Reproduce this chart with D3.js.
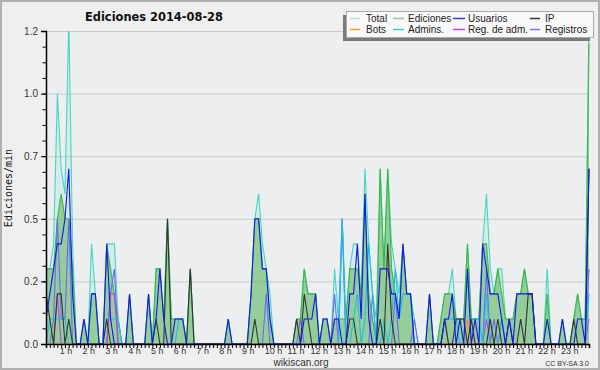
<!DOCTYPE html>
<html>
<head>
<meta charset="utf-8">
<script src="https://cdn.jsdelivr.net/npm/d3@7"></script>
<style>
  body { margin: 0; background: #efefef; }
  svg { display: block; }
</style>
</head>
<body>
<div id="chart"></div>
<script>
// 10 minute slots, values in edits per minute (144 slots)
const total = [
  0.3,0.3,0.4,1.0,0.7,0.6,1.3,0.4,0,0,0.1,0,
  0.4,0.2,0,0,0.4,0.4,0.4,0.1,0,0,0.2,0,
  0,0,0,0.2,0,0.3,0.3,0.1,0.5,0.1,0.1,0.1,
  0.1,0,0.3,0,0,0,0,0,0,0,0,0,
  0.1,0,0,0,0,0,0.2,0.5,0.6,0.4,0.3,0.2,
  0,0,0,0,0,0,0.1,0.1,0.3,0.2,0.2,0.2,
  0,0.1,0.1,0,0.3,0.1,0.5,0.1,0.3,0.4,0.4,0.2,
  0.7,0.4,0.2,0.1,0.7,0.3,0.7,0.4,0.3,0.2,0.4,0.2,
  0.2,0.1,0,0,0,0.2,0,0,0.1,0.2,0.2,0.3,
  0.1,0.1,0.1,0.4,0.1,0.1,0.1,0.4,0.6,0.3,0.2,0.3,
  0.3,0.1,0.1,0.1,0.2,0.2,0.3,0.2,0.2,0,0,0,
  0.3,0,0,0,0.1,0,0,0.1,0.2,0.1,0.1,1.3
];
const ediciones = [
  0.3,0.3,0.3,0.5,0.6,0.5,0.5,0.3,0,0,0.1,0,
  0.2,0.2,0,0,0.4,0.3,0.2,0.1,0,0,0.2,0,
  0,0,0,0.2,0,0.3,0.3,0.1,0.5,0.1,0.1,0.1,
  0.1,0,0.3,0,0,0,0,0,0,0,0,0,
  0.1,0,0,0,0,0,0.2,0.5,0.5,0.3,0.3,0.1,
  0,0,0,0,0,0,0.1,0.1,0.3,0.2,0.2,0.2,
  0,0.1,0.1,0,0.1,0.1,0.1,0.1,0.3,0.3,0.3,0.2,
  0.6,0.2,0.1,0,0.7,0.3,0.7,0.3,0.2,0.1,0.4,0.2,
  0.2,0,0,0,0,0.2,0,0,0.1,0.2,0.2,0.2,
  0.1,0.1,0.1,0.4,0.1,0.1,0.1,0.4,0.4,0.2,0.2,0.3,
  0.2,0.1,0.1,0.1,0.2,0.2,0.3,0.2,0.2,0,0,0,
  0.2,0,0,0,0.1,0,0,0.1,0.2,0.1,0.1,1.2
];
const usuarios = [
  0.1,0.2,0.3,0.4,0.4,0.5,0.7,0.2,0,0,0.1,0,
  0.2,0.2,0,0,0.4,0.1,0,0,0,0,0.2,0,
  0,0,0,0.2,0,0.1,0.3,0.1,0,0,0.1,0.1,
  0.1,0,0,0,0,0,0,0,0,0,0,0,
  0.1,0,0,0,0,0,0.2,0.5,0.5,0.3,0.3,0.1,
  0,0,0,0,0,0,0,0,0.1,0.1,0.1,0.2,
  0,0.1,0.1,0,0.1,0.1,0,0,0.2,0.2,0.4,0.1,
  0.6,0.1,0,0,0.3,0.3,0.3,0.2,0.2,0.1,0.4,0.2,
  0.2,0,0,0,0,0.2,0,0,0,0.1,0.1,0.2,
  0,0.1,0,0.3,0,0.1,0,0.4,0.3,0.2,0.2,0.2,
  0.1,0,0.1,0,0.2,0.2,0.2,0.2,0.2,0,0,0,
  0.1,0,0,0,0.1,0,0,0,0.1,0.1,0,0.7
];
const ip = [
  0.2,0.1,0,0.2,0.2,0,0.1,0,0,0,0,0,
  0,0,0,0,0.1,0,0,0,0,0,0,0,
  0,0,0,0,0,0.1,0,0,0.5,0,0,0,
  0,0,0.3,0,0,0,0,0,0,0,0,0,
  0,0,0,0,0,0,0,0.1,0,0,0,0,
  0,0,0,0,0,0,0.1,0,0.2,0.1,0,0,
  0,0,0,0,0,0,0,0,0.1,0.1,0,0,
  0,0,0,0,0.1,0,0.4,0.1,0,0,0,0,
  0,0,0,0,0,0,0,0,0,0.1,0,0,
  0.1,0.1,0.1,0,0.1,0,0,0,0,0.1,0,0.1,
  0,0,0.1,0,0,0.1,0,0.2,0.2,0,0,0,
  0,0,0,0,0,0,0,0.1,0,0,0,0.7
];
const bots = [
  0,0,0,0,0,0,0,0,0,0,0,0,
  0,0,0,0,0,0,0,0,0,0,0,0,
  0,0,0,0,0,0,0,0,0,0,0,0,
  0,0,0,0,0,0,0,0,0,0,0,0,
  0,0,0,0,0,0,0,0,0,0,0,0,
  0,0,0,0,0,0,0,0,0,0,0,0,
  0,0,0,0,0,0,0,0,0,0,0,0,
  0,0,0,0,0,0,0,0,0,0,0,0,
  0,0,0,0,0,0,0,0,0,0,0,0,
  0,0,0,0.1,0,0,0,0,0,0,0,0,
  0,0,0,0,0,0,0,0,0,0,0,0,
  0,0,0,0,0,0,0,0,0,0,0,0
];
const admins = [
  0,0.1,0.1,0.1,0.1,0.1,0,0,0,0,0,0,
  0,0,0,0,0.1,0.1,0.1,0.1,0,0,0,0,
  0,0,0,0,0,0,0,0,0,0,0,0.1,
  0.1,0,0,0,0,0,0,0,0,0,0,0,
  0,0,0,0,0,0,0,0,0,0,0,0,
  0,0,0,0,0,0,0,0,0,0,0,0,
  0,0,0,0,0,0,0.5,0,0,0.1,0.2,0,
  0.1,0.4,0.2,0,0,0.1,0,0.1,0.3,0.1,0.2,0.2,
  0.2,0,0,0,0,0,0,0,0,0.1,0.1,0.1,
  0.1,0,0,0,0.1,0.1,0.1,0,0.2,0,0,0,
  0.1,0,0,0,0,0,0,0,0,0,0,0,
  0,0,0,0,0,0,0,0,0,0,0,0.2
];
const regAdm = [
  0,0,0,0.2,0,0,0,0,0,0,0,0,
  0,0,0,0,0,0.2,0.2,0,0,0,0,0,
  0,0,0,0,0,0,0,0,0,0,0,0,
  0,0,0,0,0,0,0,0,0,0,0,0,
  0,0,0,0,0,0,0,0,0,0,0,0,
  0,0,0,0,0,0,0,0,0,0,0,0,
  0,0,0,0,0,0,0,0,0,0,0,0,
  0,0,0,0,0,0,0,0,0,0,0,0,
  0,0,0,0,0,0,0,0,0,0,0,0,
  0,0,0,0,0,0,0,0,0.1,0,0,0,
  0,0,0,0,0,0,0,0,0,0,0,0,
  0,0,0,0,0,0,0,0,0,0,0,0.1
];
const registros = [
  0,0,0.1,0.5,0.1,0.1,0.5,0,0,0,0,0,
  0,0,0,0,0,0.2,0.3,0,0,0,0,0,
  0,0,0,0,0,0,0,0,0,0,0,0,
  0,0,0,0,0,0,0,0,0,0,0,0,
  0,0,0,0,0,0,0,0,0,0,0.2,0,
  0,0,0,0,0,0,0,0.1,0,0,0,0,
  0,0,0,0,0.2,0,0.5,0,0,0,0,0,
  0,0,0.2,0,0,0,0,0,0.2,0,0,0,
  0,0.1,0,0,0,0,0,0,0,0.1,0,0,
  0,0,0,0,0,0,0,0,0.3,0,0.1,0,
  0.1,0,0,0,0,0,0,0,0,0,0,0,
  0,0,0,0,0,0,0,0,0,0,0,0.3
];

const hourTicks = [1,2,3,4,5,6,7,8,9,10,11,12,13,14,15,16,17,18,19,20,21,22,23];
const yTickValues = [0, 0.25, 0.5, 0.75, 1.0, 1.25];
const yTickLabels = ["0.0", "0.2", "0.5", "0.7", "1.0", "1.2"];

const legendItems = [
  {name: "Total", color: "#a8e4dc"},
  {name: "Ediciones", color: "#8fd18f"},
  {name: "Usuarios", color: "#3a3ae0"},
  {name: "IP", color: "#333333"},
  {name: "Bots", color: "#ff9a30"},
  {name: "Admins.", color: "#40c8dc"},
  {name: "Reg. de adm.", color: "#cc44dd"},
  {name: "Registros", color: "#7777ee"}
];

const FRAME_WIDTH = 600;
const FRAME_HEIGHT = 370;
const MARGINS = {left: 46, right: 11, top: 31, bottom: 26};
const VIS_RIGHT = FRAME_WIDTH - MARGINS.right;
const VIS_BOTTOM = FRAME_HEIGHT - MARGINS.bottom;
const SANS = "'Liberation Sans', Arial, sans-serif";

const xScale = d3.scaleLinear().domain([0, 143]).range([MARGINS.left, VIS_RIGHT]);
const yScale = d3.scaleLinear().domain([0, 1.25]).range([VIS_BOTTOM, MARGINS.top]);

const svg = d3.select("#chart").append("svg")
  .attr("width", FRAME_WIDTH)
  .attr("height", FRAME_HEIGHT)
  .attr("font-family", SANS);

svg.append("rect")
  .attr("x", 1).attr("y", 1)
  .attr("width", FRAME_WIDTH - 2).attr("height", FRAME_HEIGHT - 2)
  .attr("fill", "#efefef").attr("stroke", "#b0b0b0").attr("stroke-width", 2);

// plot background
svg.append("rect")
  .attr("x", MARGINS.left).attr("y", MARGINS.top)
  .attr("width", VIS_RIGHT - MARGINS.left).attr("height", VIS_BOTTOM - MARGINS.top)
  .attr("fill", "#eceef0");

// gridlines
svg.append("g").selectAll("line")
  .data(yTickValues.slice(1))
  .join("line")
    .attr("x1", MARGINS.left).attr("x2", VIS_RIGHT)
    .attr("y1", d => yScale(d) + 0.5).attr("y2", d => yScale(d) + 0.5)
    .attr("stroke", "#cbcbcb").attr("stroke-width", 1);

svg.append("clipPath").attr("id", "plotclip")
  .append("rect")
    .attr("x", MARGINS.left).attr("y", MARGINS.top)
    .attr("width", VIS_RIGHT - MARGINS.left + 1).attr("height", VIS_BOTTOM - MARGINS.top);

const plot = svg.append("g").attr("clip-path", "url(#plotclip)");

const area = d3.area()
  .x((d, i) => xScale(i))
  .y0(yScale(0))
  .y1(d => yScale(d));
const line = d3.line()
  .x((d, i) => xScale(i))
  .y(d => yScale(d));

plot.append("path").datum(total)
  .attr("d", area).attr("fill", "#40d8c8").attr("fill-opacity", 0.12);
plot.append("path").datum(ediciones)
  .attr("d", area).attr("fill", "#78c078").attr("fill-opacity", 0.7);

const lineSeries = [
  {data: total, color: "#45d6c6"},
  {data: ediciones, color: "#3cb83c"},
  {data: registros, color: "#6a6af0"},
  {data: regAdm, color: "#c040e0"},
  {data: admins, color: "#18c0e6"},
  {data: bots, color: "#ff9020"},
  {data: ip, color: "#333333"},
  {data: usuarios, color: "#1515ee"}
];

lineSeries.forEach(s => {
  plot.append("path").datum(s.data)
    .attr("d", line)
    .attr("fill", "none")
    .attr("stroke", s.color)
    .attr("stroke-width", 1.1);
});

// y axis: minor and major ticks
svg.append("g")
  .attr("transform", "translate(" + MARGINS.left + ",0)")
  .call(d3.axisLeft(yScale).tickValues(d3.range(0, 1.26, 0.0625)).tickSize(3.5).tickFormat(""))
  .call(g => g.select(".domain").remove())
  .selectAll("line").attr("stroke", "#000");

svg.append("g")
  .attr("transform", "translate(" + MARGINS.left + ",0)")
  .call(d3.axisLeft(yScale).tickValues(yTickValues).tickSize(5).tickPadding(3)
        .tickFormat((d, i) => yTickLabels[i]))
  .call(g => g.select(".domain").attr("stroke", "#000").attr("stroke-width", 1.5))
  .call(g => g.selectAll("text").attr("font-size", "10px")
        .attr("font-family", SANS).attr("fill", "#333"));

// x axis: one tick per 10 minutes
svg.append("g")
  .attr("transform", "translate(0," + VIS_BOTTOM + ")")
  .call(d3.axisBottom(xScale).tickValues(d3.range(0, 144)).tickSize(4).tickFormat(""))
  .call(g => g.select(".domain").attr("stroke", "#000").attr("stroke-width", 1.5))
  .selectAll("line").attr("stroke", "#000");

svg.append("g").selectAll("text")
  .data(hourTicks)
  .join("text")
    .attr("x", d => xScale(d * 6) - 9)
    .attr("y", VIS_BOTTOM + 10)
    .attr("font-size", "9px")
    .attr("fill", "#333")
    .text(d => d + " h");

// titles
svg.append("text")
  .attr("x", 85).attr("y", 21)
  .attr("font-family", "'DejaVu Sans', sans-serif")
  .attr("font-size", "13px").attr("font-weight", "bold")
  .attr("textLength", 138).attr("lengthAdjust", "spacingAndGlyphs")
  .attr("fill", "#111")
  .text("Ediciones  2014-08-28");

svg.append("text")
  .attr("transform", "translate(12,188) rotate(-90)")
  .attr("text-anchor", "middle")
  .attr("font-family", "'DejaVu Sans Mono', monospace")
  .attr("font-size", "10px")
  .attr("fill", "#111")
  .text("Ediciones/min");

svg.append("text")
  .attr("x", 301).attr("y", 366)
  .attr("text-anchor", "middle")
  .attr("font-size", "10px")
  .attr("fill", "#333")
  .text("wikiscan.org");

svg.append("text")
  .attr("x", 589).attr("y", 366)
  .attr("text-anchor", "end")
  .attr("font-size", "7px")
  .attr("fill", "#333")
  .text("CC BY-SA 3.0");

// legend
const legend = svg.append("g");
legend.append("rect")
  .attr("x", 343).attr("y", 15).attr("width", 247).attr("height", 26)
  .attr("fill", "#7a7a7a");
legend.append("rect")
  .attr("x", 346.5).attr("y", 11.5).attr("width", 247).attr("height", 26)
  .attr("fill", "#f9f9f9").attr("stroke", "#aaa").attr("stroke-width", 1);

const colX = [350, 393, 453, 530];
const colTextX = [366, 408, 468, 545];
const rowY = [18.5, 29.5];
const swatchW = [10, 11, 12, 10];

legendItems.forEach((d, i) => {
  const c = i % 4, r = Math.floor(i / 4);
  legend.append("line")
    .attr("x1", colX[c]).attr("x2", colX[c] + swatchW[c])
    .attr("y1", rowY[r]).attr("y2", rowY[r])
    .attr("stroke", d.color).attr("stroke-width", 1.5);
  legend.append("text")
    .attr("x", colTextX[c]).attr("y", rowY[r] + 3.5)
    .attr("font-size", "10px")
    .attr("fill", "#222")
    .text(d.name);
});
</script>
</body>
</html>
